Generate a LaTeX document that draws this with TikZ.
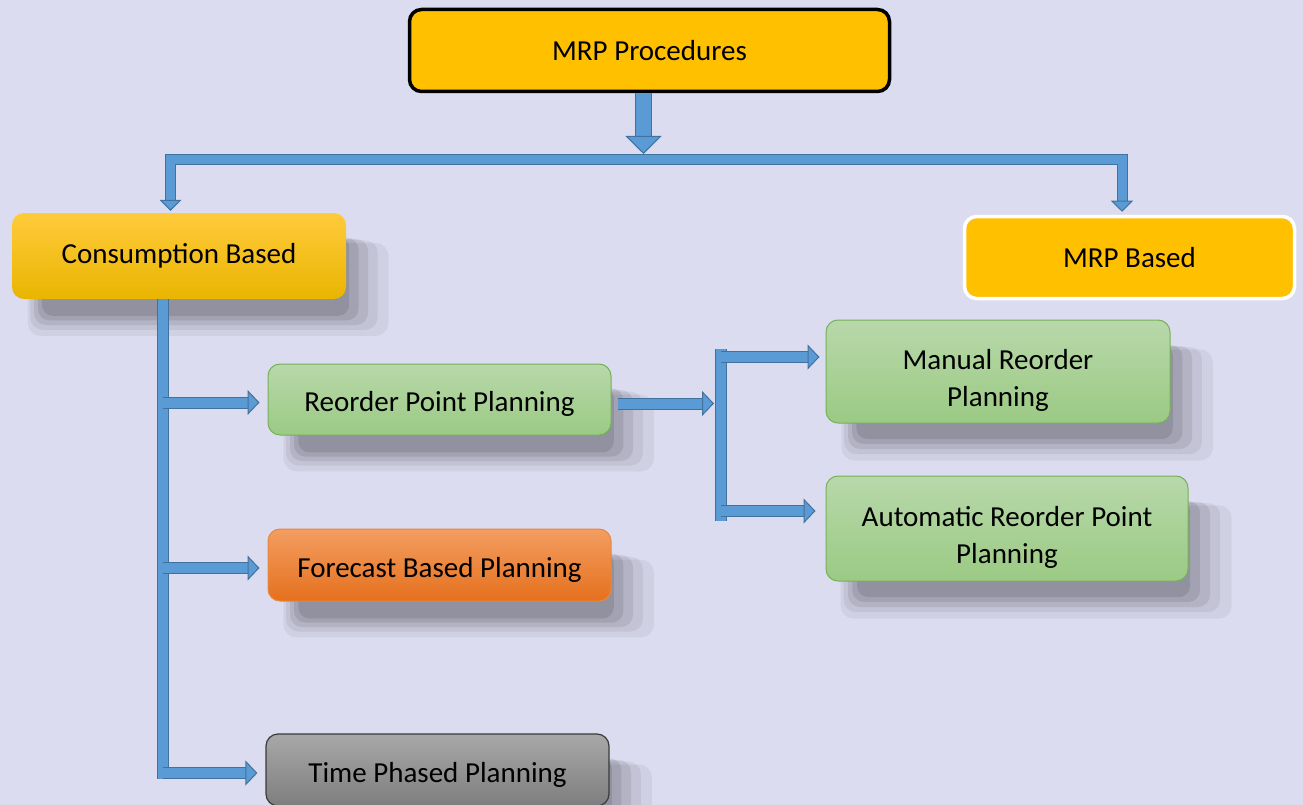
\documentclass[tikz,border=0pt]{standalone}
\usepackage{fontspec}
\setmainfont{Carlito}
\usetikzlibrary{arrows.meta,shadows}
\definecolor{bgc}{HTML}{DCDCF0}
\definecolor{gold}{HTML}{FFC000}
\definecolor{ctop}{HTML}{FFCB3C}
\definecolor{cbot}{HTML}{E9B500}
\definecolor{gtop}{HTML}{B8D8AA}
\definecolor{gbot}{HTML}{9BCA84}
\definecolor{gedge}{HTML}{77B05A}
\definecolor{otop}{HTML}{F39E61}
\definecolor{obot}{HTML}{E5701D}
\definecolor{oedge}{HTML}{E8873F}
\definecolor{ytop}{HTML}{A8A8A8}
\definecolor{ybot}{HTML}{7E7E7E}
\definecolor{yedge}{HTML}{3A3A3A}
\definecolor{afill}{HTML}{5B9BD5}
\definecolor{aedge}{HTML}{41719C}
\newcommand\lowtext[1]{\rule{0pt}{#1}}
\begin{document}
\begin{tikzpicture}[x=1pt,y=-1pt,
  box/.style={rectangle, rounded corners=12pt, align=center, inner sep=0pt,
    font=\fontsize{29}{37}\selectfont},
  softshadow/.style={
    drop shadow={shadow xshift=27pt, shadow yshift=-31pt, shadow scale=1.08, opacity=0.05, fill=black},
    drop shadow={shadow xshift=24pt, shadow yshift=-28pt, shadow scale=1.04, opacity=0.06, fill=black},
    drop shadow={shadow xshift=22pt, shadow yshift=-26pt, opacity=0.08, fill=black},
    drop shadow={shadow xshift=20pt, shadow yshift=-24pt, shadow scale=0.96, opacity=0.09, fill=black},
    drop shadow={shadow xshift=18pt, shadow yshift=-22pt, shadow scale=0.92, opacity=0.10, fill=black}},
  greenbox/.style={box, softshadow, top color=gtop, bottom color=gbot, draw=gedge, line width=1pt},
  aout/.style={draw=aedge, line width=#1, line join=miter},
  ain/.style={draw=afill, line width=#1, line join=miter},
  tipS/.style={-{Triangle[width=25pt,length=12pt,fill=afill,color=aedge,line width=1pt]}},
  tipB/.style={-{Triangle[width=36pt,length=18pt,fill=afill,color=aedge,line width=1pt]}},
  tipD/.style={{Triangle[width=22pt,length=11pt,fill=afill,color=aedge,line width=1pt]}-{Triangle[width=22pt,length=11pt,fill=afill,color=aedge,line width=1pt]}}
]
\useasboundingbox (0,0) rectangle (1303,805);
\fill[bgc] (0,0) rectangle (1303,805);

% nodes
\node[box, fill=gold, draw=black, line width=3.5pt, minimum width=480pt, minimum height=82pt] (proc) at (649.5,50.5) {MRP Procedures};
\node[box, softshadow, top color=ctop, bottom color=cbot, minimum width=334pt, minimum height=86pt] (cons) at (179,256) {Consumption Based};
\node[box, fill=gold, draw=white, line width=3.5pt, minimum width=330pt, minimum height=82pt] (mrpb) at (1129.5,257.5) {MRP Based};
\node[greenbox, minimum width=343pt, minimum height=71pt] (rop) at (439.5,399.5) {\lowtext{29pt}Reorder Point Planning};
\node[box, softshadow, top color=otop, bottom color=obot, draw=oedge, line width=1pt, minimum width=343pt, minimum height=72pt] (fbp) at (439.5,565) {\lowtext{29pt}Forecast Based Planning};
\node[box, softshadow, top color=ytop, bottom color=ybot, draw=yedge, line width=1.2pt, minimum width=343pt, minimum height=72pt] (tpp) at (437.5,770) {\lowtext{29pt}Time Phased Planning};
\node[greenbox, minimum width=344pt, minimum height=103pt] (man) at (998,371.5) {\lowtext{38.5pt}Manual Reorder\\Planning};
\node[greenbox, minimum width=362pt, minimum height=105pt] (auto) at (1007,528.5) {\lowtext{38.5pt}Automatic Reorder Point\\Planning};

% coordinates
\coordinate (busTop) at (643.5,154);
\coordinate (busL) at (170.5,160);
\coordinate (busR) at (1122,160);
\coordinate (trunkTop) at ([xshift=-16pt]cons.south);
\coordinate (trunkEnd) at ([yshift=-9pt]trunkTop |- tpp.west);
\coordinate (brkTop) at (721,349);
\coordinate (brkBot) at (721,521);
\coordinate (brkUp) at (721,357);
\coordinate (brkLow) at (721,511);

% top arrow
\draw[aout=17pt, shorten >=12pt] ([xshift=-6pt]proc.south) -- (busTop);
\draw[ain=15pt, tipB] ([xshift=-6pt]proc.south) -- (busTop);

% bus with two drops
\draw[aout=11pt, shorten <=10pt, shorten >=10pt] ([xshift=-8.5pt]cons.north) -- (busL) -- (busR) -- ([xshift=-7.5pt]mrpb.north);
\draw[ain=9pt, tipD, shorten <=2pt, shorten >=3pt] ([xshift=-8.5pt]cons.north) -- (busL) -- (busR) -- ([xshift=-7.5pt]mrpb.north);

% trunk
\draw[aout=12pt] (trunkTop) -- (trunkEnd);
\draw[ain=10pt] (trunkTop) -- (trunkEnd);

% branches
\foreach \n in {rop,fbp,tpp}{
  \draw[aout=12pt, shorten >=17pt] ([yshift=-3pt]trunkTop |- \n.west) -- ([yshift=-3pt]\n.west);
  \draw[ain=10pt, tipS, shorten >=8pt] ([yshift=-3pt]trunkTop |- \n.west) -- ([yshift=-3pt]\n.west);
}

% reorder point -> bracket
\draw[aout=12pt, shorten >=16pt] ([xshift=6pt,yshift=-4pt]rop.east) -- ([yshift=-4pt]brkTop |- rop.east);
\draw[ain=10pt, tipS, shorten >=7pt] ([xshift=6pt,yshift=-4pt]rop.east) -- ([yshift=-4pt]brkTop |- rop.east);

% bracket
\draw[aout=12pt] (brkTop) -- (brkBot);
\draw[ain=10pt] (brkTop) -- (brkBot);

\draw[aout=12pt, shorten >=14pt] (brkUp) -- (brkUp -| man.west);
\draw[ain=10pt, tipS, shorten >=6pt] (brkUp) -- (brkUp -| man.west);
\draw[aout=12pt, shorten >=19pt] (brkLow) -- (brkLow -| auto.west);
\draw[ain=10pt, tipS, shorten >=10pt] (brkLow) -- (brkLow -| auto.west);
\end{tikzpicture}
\end{document}
